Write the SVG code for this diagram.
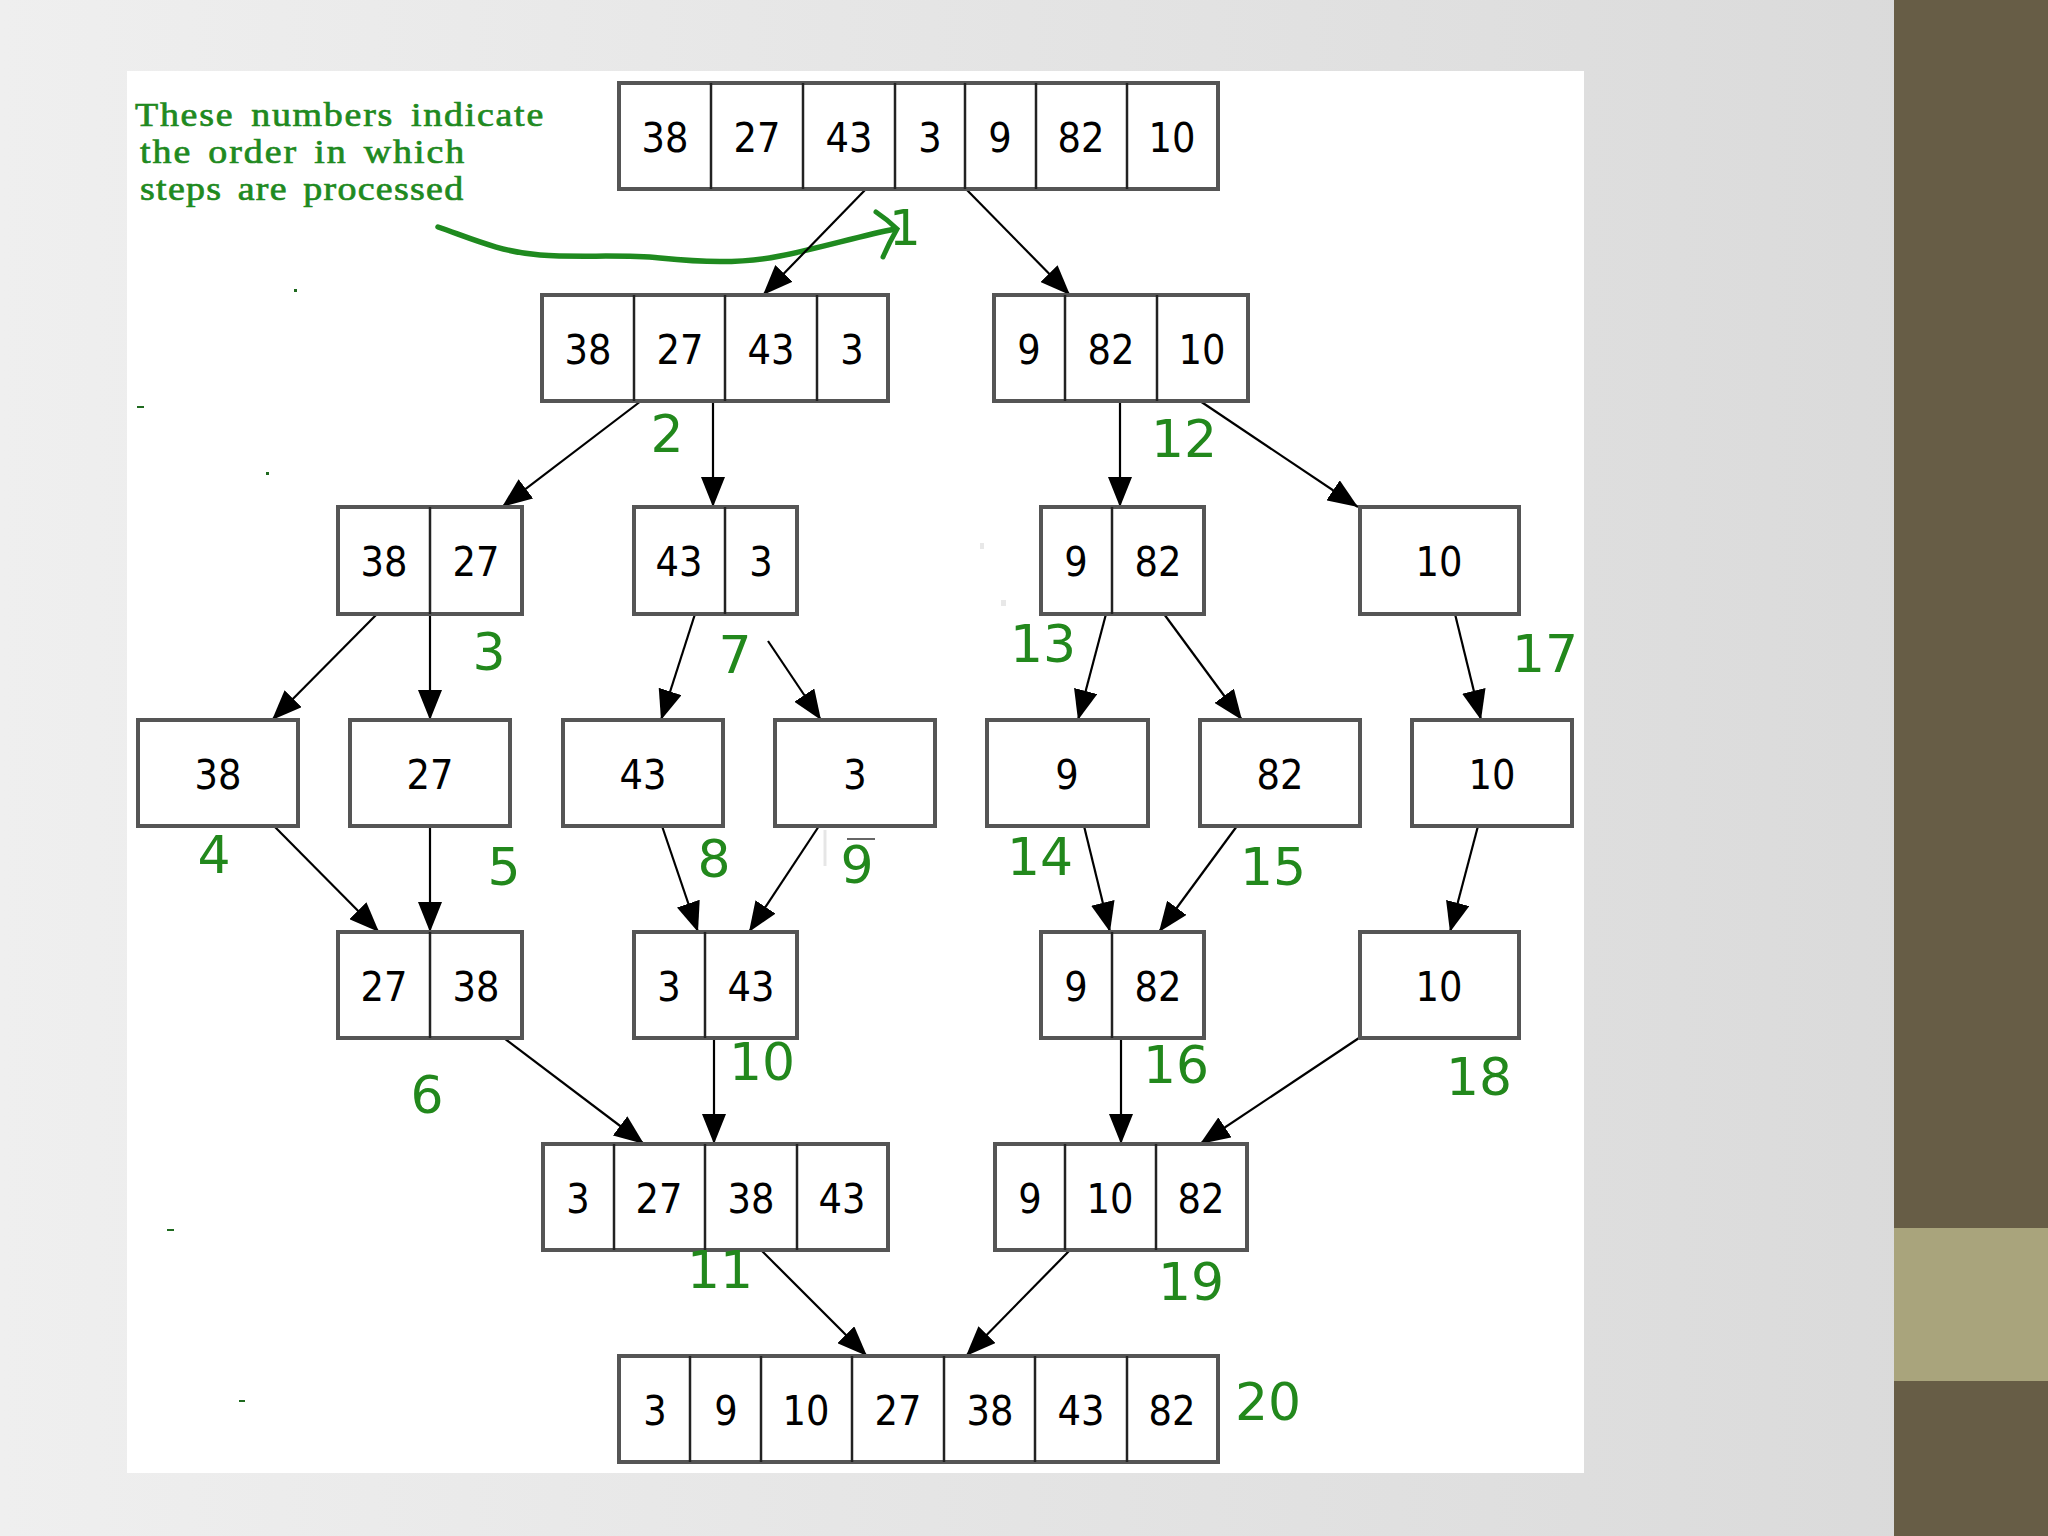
<svg xmlns="http://www.w3.org/2000/svg" width="2048" height="1536" viewBox="0 0 2048 1536">
<defs>
<linearGradient id="bg" x1="0" y1="0" x2="1" y2="0">
<stop offset="0" stop-color="#efefef"/>
<stop offset="1" stop-color="#d9d9d9"/>
</linearGradient>
<marker id="ah" viewBox="0 0 30 24" refX="30" refY="12" markerWidth="30" markerHeight="24" markerUnits="userSpaceOnUse" orient="auto">
<path d="M0,0 L30,12 L0,24 z" fill="#000"/>
</marker>
<style>
.box{fill:#fff;stroke:#555;stroke-width:4}
.div{stroke:#222;stroke-width:2.5}
.v{font-family:'DejaVu Sans Condensed','DejaVu Sans',sans-serif;font-size:41px;fill:#000;text-anchor:middle}
.g{font-family:'DejaVu Sans',sans-serif;font-size:52px;fill:#22881c;text-anchor:middle}
.note{font-family:'Liberation Serif',serif;font-size:33px;fill:#1f8a1f;stroke:#1f8a1f;stroke-width:0.7}
.c{stroke:#000;stroke-width:2.2;fill:none;marker-end:url(#ah)}
</style>
</defs>
<rect x="0" y="0" width="2048" height="1536" fill="url(#bg)"/>
<rect x="1894" y="0" width="154" height="1536" fill="#675d46"/>
<rect x="1894" y="1228" width="154" height="153" fill="#a9a47c"/>
<rect x="127" y="71" width="1457" height="1402" fill="#fff"/>

<g id="annotation">
<text class="note" transform="translate(135,126) scale(1.15,1)" x="0" y="0" textLength="355" lengthAdjust="spacing" word-spacing="5">These numbers indicate</text>
<text class="note" transform="translate(140,163) scale(1.15,1)" x="0" y="0" textLength="282" lengthAdjust="spacing" word-spacing="4">the order in which</text>
<text class="note" transform="translate(140,200) scale(1.15,1)" x="0" y="0" textLength="281" lengthAdjust="spacing" word-spacing="4">steps are processed</text>
<path d="M438,227 C470,238 500,252 540,255 C580,258 620,254 660,258 C700,262 740,264 780,256 C820,248 860,236 895,229" fill="none" stroke="#1f8a1f" stroke-width="5.5" stroke-linecap="round" stroke-linejoin="round"/>
<path d="M876,212 Q888,220 897,229 Q889,243 883,257" fill="none" stroke="#1f8a1f" stroke-width="5" stroke-linecap="round"/>
</g>

<g id="connectors">
<line class="c" x1="866" y1="189" x2="763" y2="295"/>
<line class="c" x1="966" y1="189" x2="1070" y2="295"/>
<line class="c" x1="641" y1="401" x2="502" y2="507"/>
<line class="c" x1="713" y1="401" x2="713" y2="507"/>
<line class="c" x1="1120" y1="401" x2="1120" y2="507"/>
<line class="c" x1="1200" y1="401" x2="1358" y2="507"/>
<line class="c" x1="377" y1="614" x2="272" y2="720"/>
<line class="c" x1="430" y1="614" x2="430" y2="720"/>
<line class="c" x1="695" y1="614" x2="661" y2="720"/>
<line class="c" x1="768" y1="641" x2="821" y2="720"/>
<line class="c" x1="1106" y1="614" x2="1078" y2="720"/>
<line class="c" x1="1164" y1="614" x2="1242" y2="720"/>
<line class="c" x1="1455" y1="614" x2="1481" y2="720"/>
<line class="c" x1="274" y1="826" x2="379" y2="932"/>
<line class="c" x1="430" y1="826" x2="430" y2="932"/>
<line class="c" x1="662" y1="826" x2="698" y2="932"/>
<line class="c" x1="819" y1="826" x2="749" y2="932"/>
<line class="c" x1="1084" y1="826" x2="1110" y2="932"/>
<line class="c" x1="1237" y1="826" x2="1159" y2="932"/>
<line class="c" x1="1478" y1="826" x2="1450" y2="932"/>
<line class="c" x1="504" y1="1038" x2="644" y2="1144"/>
<line class="c" x1="714" y1="1038" x2="714" y2="1144"/>
<line class="c" x1="1121" y1="1038" x2="1121" y2="1144"/>
<line class="c" x1="1359" y1="1038" x2="1200" y2="1144"/>
<line class="c" x1="761" y1="1250" x2="867" y2="1356"/>
<line class="c" x1="1070" y1="1250" x2="966" y2="1356"/>
</g>

<g id="n1">
<rect class="box" x="619" y="83" width="599" height="106"/>
<line class="div" x1="711" y1="83" x2="711" y2="189"/><line class="div" x1="803" y1="83" x2="803" y2="189"/><line class="div" x1="895" y1="83" x2="895" y2="189"/><line class="div" x1="965" y1="83" x2="965" y2="189"/><line class="div" x1="1036" y1="83" x2="1036" y2="189"/><line class="div" x1="1127" y1="83" x2="1127" y2="189"/>
<text class="v" x="665" y="152">38</text><text class="v" x="757" y="152">27</text><text class="v" x="849" y="152">43</text><text class="v" x="930" y="152">3</text><text class="v" x="1000" y="152">9</text><text class="v" x="1081" y="152">82</text><text class="v" x="1172" y="152">10</text>
</g>
<g id="n2">
<rect class="box" x="542" y="295" width="346" height="106"/>
<line class="div" x1="634" y1="295" x2="634" y2="401"/><line class="div" x1="725" y1="295" x2="725" y2="401"/><line class="div" x1="817" y1="295" x2="817" y2="401"/>
<text class="v" x="588" y="364">38</text><text class="v" x="680" y="364">27</text><text class="v" x="771" y="364">43</text><text class="v" x="852" y="364">3</text>
</g>
<g id="n3">
<rect class="box" x="994" y="295" width="254" height="106"/>
<line class="div" x1="1065" y1="295" x2="1065" y2="401"/><line class="div" x1="1157" y1="295" x2="1157" y2="401"/>
<text class="v" x="1029" y="364">9</text><text class="v" x="1111" y="364">82</text><text class="v" x="1202" y="364">10</text>
</g>
<g id="n4">
<rect class="box" x="338" y="507" width="184" height="107"/>
<line class="div" x1="430" y1="507" x2="430" y2="614"/>
<text class="v" x="384" y="576">38</text><text class="v" x="476" y="576">27</text>
</g>
<g id="n5">
<rect class="box" x="634" y="507" width="163" height="107"/>
<line class="div" x1="725" y1="507" x2="725" y2="614"/>
<text class="v" x="679" y="576">43</text><text class="v" x="761" y="576">3</text>
</g>
<g id="n6">
<rect class="box" x="1041" y="507" width="163" height="107"/>
<line class="div" x1="1112" y1="507" x2="1112" y2="614"/>
<text class="v" x="1076" y="576">9</text><text class="v" x="1158" y="576">82</text>
</g>
<g id="n7">
<rect class="box" x="1360" y="507" width="159" height="107"/>
<text class="v" x="1439" y="576">10</text>
</g>
<g id="n8"><rect class="box" x="138" y="720" width="160" height="106"/><text class="v" x="218" y="789">38</text></g>
<g id="n9"><rect class="box" x="350" y="720" width="160" height="106"/><text class="v" x="430" y="789">27</text></g>
<g id="n10"><rect class="box" x="563" y="720" width="160" height="106"/><text class="v" x="643" y="789">43</text></g>
<g id="n11"><rect class="box" x="775" y="720" width="160" height="106"/><text class="v" x="855" y="789">3</text></g>
<g id="n12"><rect class="box" x="987" y="720" width="161" height="106"/><text class="v" x="1067" y="789">9</text></g>
<g id="n13"><rect class="box" x="1200" y="720" width="160" height="106"/><text class="v" x="1280" y="789">82</text></g>
<g id="n14"><rect class="box" x="1412" y="720" width="160" height="106"/><text class="v" x="1492" y="789">10</text></g>
<g id="n15">
<rect class="box" x="338" y="932" width="184" height="106"/>
<line class="div" x1="430" y1="932" x2="430" y2="1038"/>
<text class="v" x="384" y="1001">27</text><text class="v" x="476" y="1001">38</text>
</g>
<g id="n16">
<rect class="box" x="634" y="932" width="163" height="106"/>
<line class="div" x1="705" y1="932" x2="705" y2="1038"/>
<text class="v" x="669" y="1001">3</text><text class="v" x="751" y="1001">43</text>
</g>
<g id="n17">
<rect class="box" x="1041" y="932" width="163" height="106"/>
<line class="div" x1="1112" y1="932" x2="1112" y2="1038"/>
<text class="v" x="1076" y="1001">9</text><text class="v" x="1158" y="1001">82</text>
</g>
<g id="n18"><rect class="box" x="1360" y="932" width="159" height="106"/><text class="v" x="1439" y="1001">10</text></g>
<g id="n19">
<rect class="box" x="543" y="1144" width="345" height="106"/>
<line class="div" x1="614" y1="1144" x2="614" y2="1250"/><line class="div" x1="705" y1="1144" x2="705" y2="1250"/><line class="div" x1="797" y1="1144" x2="797" y2="1250"/>
<text class="v" x="578" y="1213">3</text><text class="v" x="659" y="1213">27</text><text class="v" x="751" y="1213">38</text><text class="v" x="842" y="1213">43</text>
</g>
<g id="n20">
<rect class="box" x="995" y="1144" width="252" height="106"/>
<line class="div" x1="1065" y1="1144" x2="1065" y2="1250"/><line class="div" x1="1156" y1="1144" x2="1156" y2="1250"/>
<text class="v" x="1030" y="1213">9</text><text class="v" x="1110" y="1213">10</text><text class="v" x="1201" y="1213">82</text>
</g>
<g id="n21">
<rect class="box" x="619" y="1356" width="599" height="106"/>
<line class="div" x1="690" y1="1356" x2="690" y2="1462"/><line class="div" x1="761" y1="1356" x2="761" y2="1462"/><line class="div" x1="852" y1="1356" x2="852" y2="1462"/><line class="div" x1="944" y1="1356" x2="944" y2="1462"/><line class="div" x1="1035" y1="1356" x2="1035" y2="1462"/><line class="div" x1="1127" y1="1356" x2="1127" y2="1462"/>
<text class="v" x="655" y="1425">3</text><text class="v" x="726" y="1425">9</text><text class="v" x="806" y="1425">10</text><text class="v" x="898" y="1425">27</text><text class="v" x="990" y="1425">38</text><text class="v" x="1081" y="1425">43</text><text class="v" x="1172" y="1425">82</text>
</g>

<g id="step-numbers">
<text class="g" x="905" y="245" style="font-size:50px">1</text>
<text class="g" x="667" y="452">2</text>
<text class="g" x="489" y="670">3</text>
<text class="g" x="214" y="873">4</text>
<text class="g" x="504" y="885">5</text>
<text class="g" x="427" y="1113">6</text>
<text class="g" x="735" y="673">7</text>
<text class="g" x="714" y="877">8</text>
<text class="g" x="857" y="883">9</text>
<text class="g" x="762" y="1080">10</text>
<text class="g" x="720" y="1288">11</text>
<text class="g" x="1184" y="457">12</text>
<text class="g" x="1043" y="662">13</text>
<text class="g" x="1040" y="875">14</text>
<text class="g" x="1273" y="885">15</text>
<text class="g" x="1176" y="1083">16</text>
<text class="g" x="1545" y="672">17</text>
<text class="g" x="1479" y="1095">18</text>
<text class="g" x="1191" y="1300">19</text>
<text class="g" x="1268" y="1420">20</text>
</g>

<g id="marks">
<line x1="847" y1="839" x2="875" y2="839" stroke="#666" stroke-width="2"/>
<line x1="825" y1="830" x2="825" y2="866" stroke="#e6e6e6" stroke-width="3"/>
<rect x="294" y="289" width="3" height="3" fill="#1f6a1f"/>
<rect x="137" y="406" width="7" height="2" fill="#1f6a1f"/>
<rect x="266" y="472" width="3" height="3" fill="#1f6a1f"/>
<rect x="167" y="1229" width="7" height="2" fill="#1f6a1f"/>
<rect x="239" y="1400" width="6" height="2" fill="#1f6a1f"/>
<rect x="980" y="543" width="4" height="6" fill="#e8e8e8"/>
<rect x="1001" y="600" width="5" height="6" fill="#e8e8e8"/>
</g>
</svg>
